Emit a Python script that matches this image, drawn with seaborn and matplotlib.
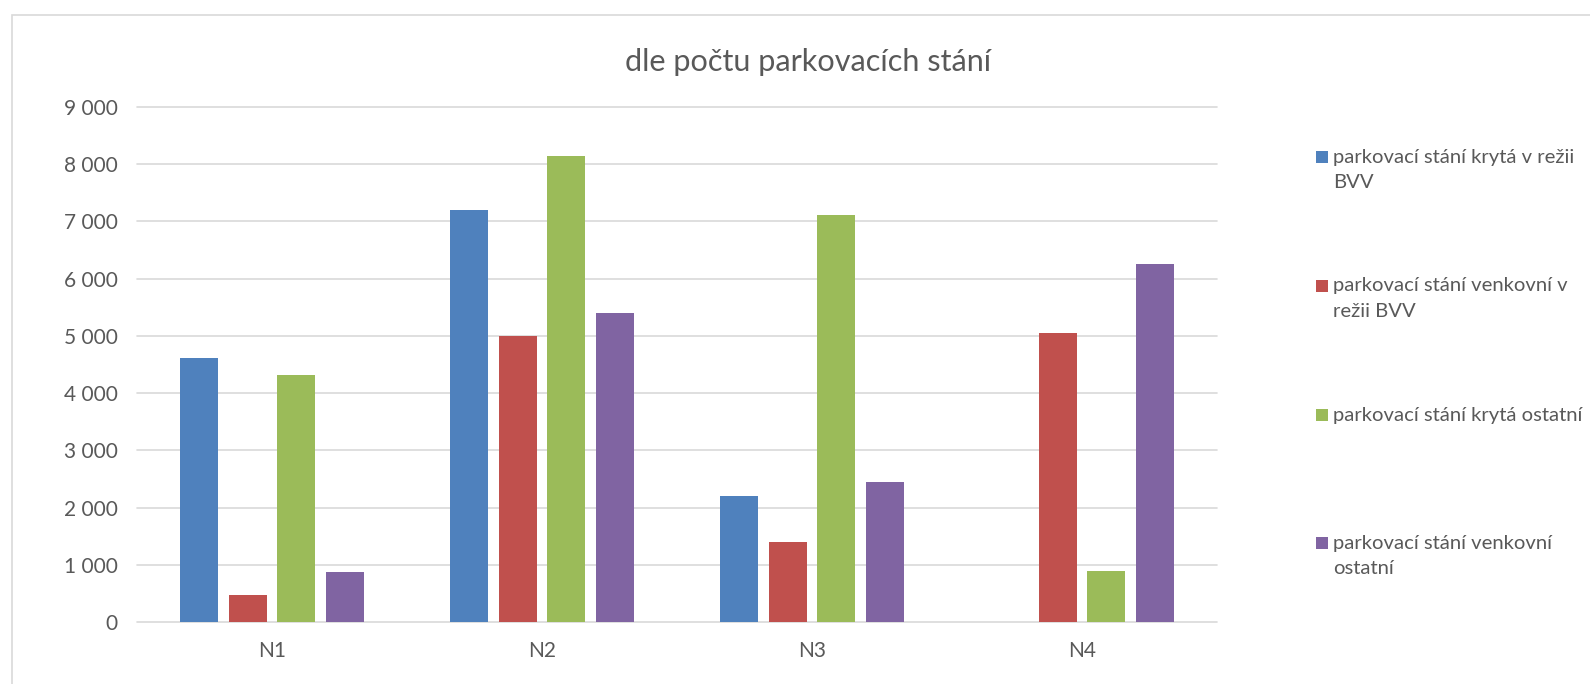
import matplotlib
matplotlib.use("Agg")
import matplotlib.pyplot as plt
from matplotlib.patches import Rectangle
from matplotlib.ticker import FuncFormatter, MultipleLocator
import numpy as np
import pandas as pd
import seaborn as sns

# --- data -------------------------------------------------------------
kategorie = ["N1", "N2", "N3", "N4"]
typy = [
    "parkovací stání krytá v režii BVV",
    "parkovací stání venkovní v režii BVV",
    "parkovací stání krytá ostatní",
    "parkovací stání venkovní ostatní",
]
legenda_radky = [
    ["parkovací stání krytá v režii", "BVV"],
    ["parkovací stání venkovní v", "režii BVV"],
    ["parkovací stání krytá ostatní"],
    ["parkovací stání venkovní", "ostatní"],
]
kryta_bvv = [4610, 7200, 2195, np.nan]
venkovni_bvv = [480, 5000, 1390, 5045]
kryta_ostatni = [4320, 8150, 7120, 886]
venkovni_ostatni = [873, 5400, 2445, 6257]
barvy = ["#4F81BD", "#C0504D", "#9BBB59", "#8064A2"]
nadpis = "dle počtu parkovacích stání"

serie = [kryta_bvv, venkovni_bvv, kryta_ostatni, venkovni_ostatni]
df = pd.DataFrame(
    [(k, t, v) for t, hodnoty in zip(typy, serie) for k, v in zip(kategorie, hodnoty)],
    columns=["kategorie", "typ", "pocet"],
)

# --- style ------------------------------------------------------------
sns.set_theme(style="white")
plt.rcParams["font.family"] = ["Lato", "DejaVu Sans"]
TEXT = "#595959"
GRID = "#d9d9d9"

W, H = 1590, 684
fig = plt.figure(figsize=(W / 100, H / 100), dpi=100)
fig.patch.set_facecolor("white")


def fx(px):
    return px / W


def fy(py):
    return 1 - py / H


# chart frame
fig.patches.append(
    Rectangle((fx(12), fy(700)), fx(1600) - fx(12), fy(15) - fy(700),
              transform=fig.transFigure, fill=False, edgecolor=GRID,
              linewidth=1.2, zorder=0)
)

ax = fig.add_axes([fx(137), fy(622), fx(1217) - fx(137), fy(107) - fy(622)])

sns.barplot(
    data=df, x="kategorie", y="pocet", hue="typ",
    order=kategorie, hue_order=typy, palette=barvy, saturation=1,
    width=0.72, gap=0.22, linewidth=0, errorbar=None,
    legend=False, ax=ax, zorder=3,
)

ax.set_ylim(0, 9000)
ax.set_xlim(-0.5, 3.5)
ax.yaxis.set_major_locator(MultipleLocator(1000))
ax.yaxis.set_major_formatter(FuncFormatter(lambda v, _: f"{v:,.0f}".replace(",", " ")))
ax.grid(axis="y", color=GRID, linewidth=1.2)
ax.grid(axis="x", visible=False)
ax.set_axisbelow(True)
for ln in ax.get_ygridlines():
    ln.set_clip_on(False)
for s in ax.spines.values():
    s.set_visible(False)
ax.set_xlabel("")
ax.set_ylabel("")
ax.tick_params(axis="y", length=0, pad=14, labelsize=15, labelcolor=TEXT)
ax.tick_params(axis="x", length=0, pad=14, labelsize=15, labelcolor=TEXT)

# title
fig.text(fx(808), fy(62), nadpis, ha="center", va="center", fontsize=22.1, color=TEXT)

# legend
prvni_radky = [157, 286, 415, 543]
for barva, radky, y0 in zip(barvy, legenda_radky, prvni_radky):
    fig.patches.append(
        Rectangle((fx(1316), fy(y0 + 6)), fx(1328) - fx(1316), fy(y0 - 6) - fy(y0 + 6),
                  transform=fig.transFigure, facecolor=barva, edgecolor="none")
    )
    for i, radek in enumerate(radky):
        fig.text(fx(1333), fy(y0 + 25 * i), radek, ha="left", va="center",
                 fontsize=14.6, color=TEXT)

fig.savefig("out.png", dpi=100, facecolor="white")
